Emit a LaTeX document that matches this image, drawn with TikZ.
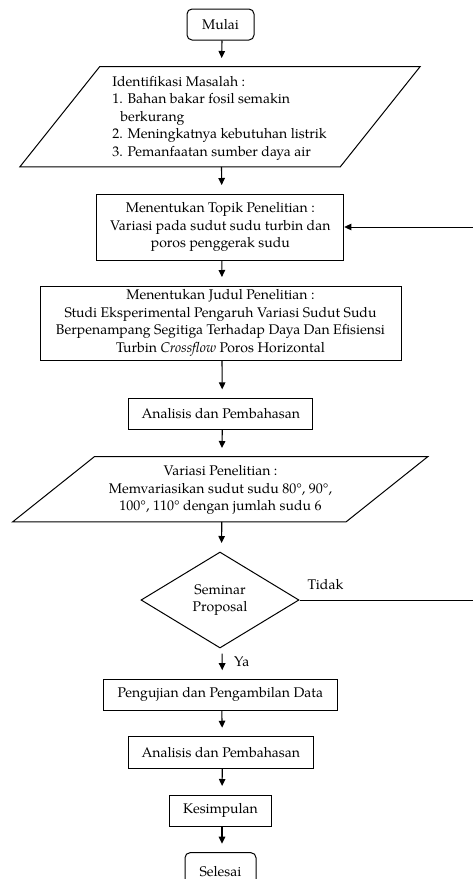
\documentclass[tikz,border=0pt]{standalone}
\usepackage{fontspec}
\setmainfont{TeX Gyre Pagella}
\usetikzlibrary{arrows.meta,calc,shapes.geometric}
\begin{document}
\begin{tikzpicture}[x=1pt,y=-1pt,
  base/.style={font=\fontsize{14}{17.5}\selectfont, align=center, inner sep=0pt},
  box/.style={base, draw, line width=1pt},
  frame/.style={draw=none, inner sep=0pt},
  pline/.style={line width=1pt, line join=miter},
  arr/.style={line width=1.1pt, -{Triangle[length=7pt,width=6.5pt]}, shorten >=8.5pt},
  retline/.style={line width=0.8pt, -{Triangle[length=7pt,width=6.5pt]}}]
\useasboundingbox (0,0) rectangle (472,879);
\fill[white] (0,0) rectangle (472,879);

% nodes
\node[box, rounded corners=5pt, minimum width=67pt, minimum height=31pt] (mulai) at (220.5,24.5) {Mulai};

\node[frame, minimum width=320pt, minimum height=100pt] (ident) at (220,116.7) {};
\draw[pline] ($(ident.north west)+(40,0)$) -- ($(ident.north east)+(40,0)$)
  -- ($(ident.south east)+(-40,0)$) -- ($(ident.south west)+(-40,0)$) -- cycle;
\node[base, align=left] (identtxt) at (219.5,118) {Identifikasi Masalah :\\
1. Bahan bakar fosil semakin\\
\hspace*{8pt}berkurang\\
2. Meningkatnya kebutuhan listrik\\
3. Pemanfaatan sumber daya air};

\node[box, minimum width=247pt, minimum height=66pt] (topik) at (220.3,227)
  {Menentukan Topik Penelitian :\\Variasi pada sudut sudu turbin dan\\poros penggerak sudu};

\node[box, minimum width=361pt, minimum height=74pt] (judul) at (220.5,323)
  {Menentukan Judul Penelitian :\\Studi Eksperimental Pengaruh Variasi Sudut Sudu\\Berpenampang Segitiga Terhadap Daya Dan Efisiensi\\Turbin \textit{Crossflow} Poros Horizontal};

\node[box, minimum width=184pt, minimum height=31pt] (anal1) at (220.8,413.8) {Analisis dan Pembahasan};

\node[frame, minimum width=333pt, minimum height=65pt] (var) at (220.3,489.2) {};
\draw[pline] ($(var.north west)+(41,0)$) -- ($(var.north east)+(41,0)$)
  -- ($(var.south east)+(-41,0)$) -- ($(var.south west)+(-41,0)$) -- cycle;
\node[base] (vartxt) at (220.5,490) {Variasi Penelitian :\\Memvariasikan sudut sudu 80°, 90°,\\100°, 110° dengan jumlah sudu 6};

\node[base, draw, line width=1pt, diamond, minimum width=158pt, minimum height=96pt] (sem) at (220,600) {Seminar\\Proposal};

\node[box, minimum width=234pt, minimum height=31pt] (uji) at (220.3,694.7) {Pengujian dan Pengambilan Data};
\node[box, minimum width=185pt, minimum height=31.5pt] (anal2) at (220.8,752.5) {Analisis dan Pembahasan};
\node[box, minimum width=102pt, minimum height=31pt] (kes) at (220.5,810.5) {Kesimpulan};
\node[box, rounded corners=5pt, minimum width=71pt, minimum height=38pt] (sel) at (220.5,871.7) {Selesai};

\node[base, anchor=west] (tidak) at (307.5,584) {Tidak};
\node[base, anchor=west] (ya) at (234,662) {Ya};

% connectors
\draw[arr] ([xshift=1.5pt]mulai.south) -- ([xshift=1.5pt]ident.north);
\draw[arr] ([xshift=1.5pt]ident.south) -- ([xshift=1.5pt]topik.north);
\draw[arr] ([xshift=1.5pt]topik.south) -- ([xshift=1.5pt]judul.north);
\draw[arr] ([xshift=1.5pt]judul.south) -- ([xshift=1.5pt]anal1.north);
\draw[arr] ([xshift=1.5pt]anal1.south) -- ([xshift=1.5pt]var.north);
\draw[arr] ([xshift=1.5pt]var.south) -- ([xshift=1.5pt]sem.north);
\draw[arr, shorten <=5pt] ([xshift=2pt]sem.south) -- ([xshift=2pt]uji.north);
\draw[arr] ([xshift=1.5pt]uji.south) -- ([xshift=1.5pt]anal2.north);
\draw[arr] ([xshift=1.5pt]anal2.south) -- ([xshift=1.5pt]kes.north);
\draw[arr] ([xshift=1.5pt]kes.south) -- ([xshift=1.5pt]sel.north);

\coordinate (ret) at (473.5,600);
\draw[retline] (sem.east) -- (ret) |- (topik.east);
\end{tikzpicture}
\end{document}
